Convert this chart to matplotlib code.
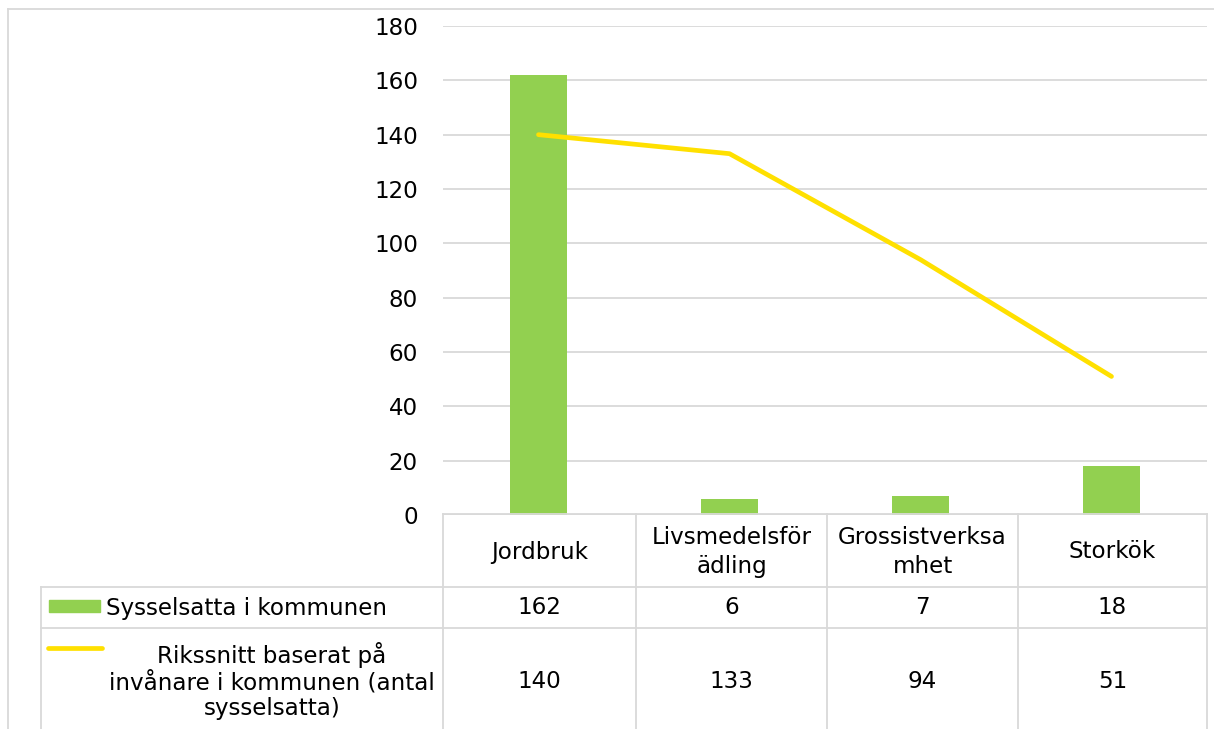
import numpy as np
import matplotlib
matplotlib.use("Agg")
import matplotlib.pyplot as plt
from matplotlib.lines import Line2D
from matplotlib.patches import Rectangle

categories = ["Jordbruk", "Livsmedelsför\nädling", "Grossistverksa\nmhet", "Storkök"]
sysselsatta = [162, 6, 7, 18]
rikssnitt = [140, 133, 94, 51]
series_names = ["Sysselsatta i kommunen",
                "Rikssnitt baserat på\ninvånare i kommunen (antal\nsysselsatta)"]
yticks = [0, 20, 40, 60, 80, 100, 120, 140, 160, 180]

W, H = 1214, 729
GREEN = "#92D050"
YELLOW = "#FFE000"
GRID = "#D9D9D9"
FS = 16.6

plt.rcParams["font.family"] = ["DejaVu Sans"]
fig = plt.figure(figsize=(W / 100, H / 100), dpi=100)

def fx(x):
    return x / W

def fy(y):
    return 1 - y / H

# plot area in pixels
x0, x1 = 443, 1207
ytop, ybot = 26, 515
ax = fig.add_axes([fx(x0), fy(ybot), fx(x1) - fx(x0), fy(ytop) - fy(ybot)])
ax.set_xlim(-0.5, len(categories) - 0.5)
ax.set_ylim(0, 180)
for s in ax.spines.values():
    s.set_visible(False)
ax.set_yticks(yticks)
ax.set_yticklabels([str(t) for t in yticks], fontsize=FS)
ax.tick_params(axis="y", length=0, pad=18)
ax.set_xticks([])
ax.grid(axis="y", color=GRID, linewidth=1.3)
ax.set_axisbelow(True)

xs = np.arange(len(categories))
ax.bar(xs, sysselsatta, width=0.30, color=GREEN, zorder=2)
ax.plot(xs, rikssnitt, color=YELLOW, linewidth=3.4, solid_capstyle="round", zorder=3)

# outer chart border
fig.add_artist(Line2D([fx(8), fx(8)], [fy(9), 0], color=GRID, lw=1.3))
fig.add_artist(Line2D([fx(8), 1], [fy(9), fy(9)], color=GRID, lw=1.3))

# data table
col_edges = [443, 636, 827, 1018, 1207]
row_lines = [514, 587, 628]
leg_left = 41
fig.add_artist(Line2D([fx(x0), fx(x1)], [fy(514), fy(514)], color=GRID, lw=1.3))
for y in row_lines[1:]:
    fig.add_artist(Line2D([fx(leg_left), fx(x1)], [fy(y), fy(y)], color=GRID, lw=1.3))
for x in col_edges:
    fig.add_artist(Line2D([fx(x), fx(x)], [fy(514), 0], color=GRID, lw=1.3))
fig.add_artist(Line2D([fx(leg_left), fx(leg_left)], [fy(587), 0], color=GRID, lw=1.3))

for i, cat in enumerate(categories):
    cx = (col_edges[i] + col_edges[i + 1]) / 2
    fig.text(fx(cx), fy(552), cat, ha="center", va="center", fontsize=FS, linespacing=1.3)
    fig.text(fx(cx), fy(608), str(sysselsatta[i]), ha="center", va="center", fontsize=FS)
    fig.text(fx(cx), fy(682), str(rikssnitt[i]), ha="center", va="center", fontsize=FS)

# legend keys
fig.add_artist(Rectangle((fx(49), fy(612)), fx(100) - fx(49), fy(600) - fy(612), color=GREEN))
fig.text(fx(106), fy(608), series_names[0], ha="left", va="center", fontsize=FS)
fig.add_artist(Line2D([fx(48), fx(102)], [fy(648), fy(648)], color=YELLOW, lw=3.4,
                      solid_capstyle="round"))
fig.text(fx(272), fy(681), series_names[1], ha="center", va="center", fontsize=FS,
         linespacing=1.15, multialignment="center")

fig.savefig("out.png", dpi=100)
